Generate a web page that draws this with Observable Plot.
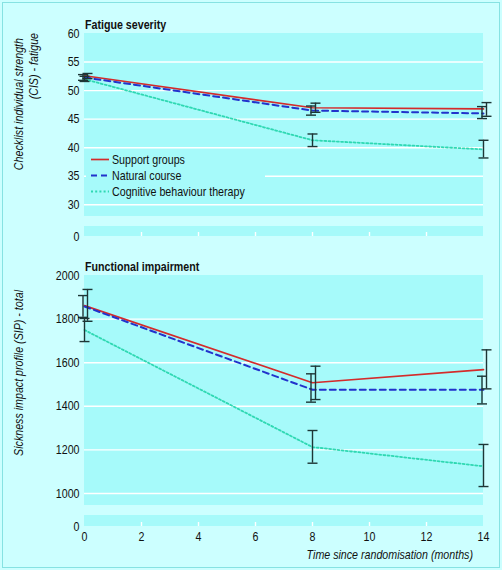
<!DOCTYPE html>
<html><head><meta charset="utf-8">
<script src="https://cdn.jsdelivr.net/npm/d3@7"></script>
<script src="https://cdn.jsdelivr.net/npm/@observablehq/plot@0.6"></script>
<style>
html,body{margin:0;padding:0;background:#ccffff;}
#wrap{position:relative;width:502px;height:570px;background:#ccffff;overflow:hidden;}
#frame{position:absolute;left:2px;top:2px;width:498px;height:566px;border:1px solid #86e2e2;box-sizing:border-box;}
.panel{position:absolute;left:0;}
</style></head><body>
<div id="wrap"><div id="frame"></div></div>
<script>
// ---------- data ----------
const months = [0, 8, 14];
const seriesNames = ["Support groups", "Natural course", "Cognitive behaviour therapy"];

// Checklist individual strength (CIS) - fatigue
const cisSupport = [52.6, 47.0, 46.8];
const cisSupportLo = [52.1, 46.2, 45.5];
const cisSupportHi = [53.0, 47.8, 47.9];
const cisNatural = [52.3, 46.5, 46.0];
const cisNaturalLo = [51.8, 45.7, 45.1];
const cisNaturalHi = [52.8, 47.3, 47.2];
const cisCBT = [52.0, 41.3, 39.7];
const cisCBTLo = [51.6, 40.2, 38.2];
const cisCBTHi = [52.5, 42.4, 41.3];

// Sickness impact profile (SIP) - total
const sipSupport = [1862, 1508, 1568];
const sipSupportLo = [1790, 1431, 1480];
const sipSupportHi = [1936, 1584, 1659];
const sipNatural = [1858, 1476, 1476];
const sipNaturalLo = [1808, 1419, 1411];
const sipNaturalHi = [1908, 1549, 1538];
const sipCBT = [1750, 1213, 1125];
const sipCBTLo = [1697, 1139, 1032];
const sipCBTHi = [1803, 1289, 1225];

const cisTicks = [0, 30, 35, 40, 45, 50, 55, 60];
const sipTicks = [0, 1000, 1200, 1400, 1600, 1800, 2000];
const monthTicks = [0, 2, 4, 6, 8, 10, 12, 14];

// ---------- styles ----------
const FONT = '"Liberation Sans", Arial, Helvetica, sans-serif';
const SQUEEZE = 0.82; // emulate a condensed face
const PLOT_BG = "#a6fafa";
const BAR = "#1d3636";
const styles = [
  {color: "#d42b2b", dash: null, width: 1.7, dx: 3},
  {color: "#2233cc", dash: "6,4", width: 2, dx: -1.5},
  {color: "#2fd8b2", dash: "2,2.2", width: 1.8, dx: 0}
];
const capSymbol = {draw(ctx, size) { const r = Math.sqrt(size / Math.PI); ctx.moveTo(-r, 0); ctx.lineTo(r, 0); }};

function rows(v, lo, hi) { return months.map((m, i) => ({month: m, value: v[i], lo: lo[i], hi: hi[i]})); }

const cisData = [rows(cisSupport, cisSupportLo, cisSupportHi), rows(cisNatural, cisNaturalLo, cisNaturalHi), rows(cisCBT, cisCBTLo, cisCBTHi)];
const sipData = [rows(sipSupport, sipSupportLo, sipSupportHi), rows(sipNatural, sipNaturalLo, sipNaturalHi), rows(sipCBT, sipCBTLo, sipCBTHi)];

function panel({height, top, bottom, breakLo, breakHi, yDomainMax, yRange, ticks, data, xAxis}) {
  const grid = ticks.filter(t => t > breakHi && t < yDomainMax);
  const inner = monthTicks.filter(t => t > 0 && t < 14);
  const marks = [
    Plot.rect([0], {x1: 0, x2: 14, y1: breakHi, y2: yDomainMax, fill: PLOT_BG}),
    Plot.rect([0], {x1: 0, x2: 14, y1: 0, y2: breakLo, fill: PLOT_BG}),
    Plot.ruleY(grid, {y: d => d, stroke: "white", strokeWidth: 1.4}),
    Plot.tickX(inner, {x: d => d, stroke: "white", strokeWidth: 1.4, insetTop: (height - top - bottom) - 4})
  ];
  data.forEach((d, i) => {
    const s = styles[i];
    marks.push(Plot.line(d, {x: "month", y: "value", stroke: s.color, strokeWidth: s.width, strokeDasharray: s.dash}));
  });
  data.forEach((d, i) => {
    const s = styles[i];
    marks.push(Plot.ruleX(d, {x: "month", y1: "lo", y2: "hi", stroke: BAR, strokeWidth: 1.4, dx: s.dx}));
    marks.push(Plot.dot(d, {x: "month", y: "lo", symbol: capSymbol, r: 5, fill: "none", stroke: BAR, strokeWidth: 1.4, dx: s.dx}));
    marks.push(Plot.dot(d, {x: "month", y: "hi", symbol: capSymbol, r: 5, fill: "none", stroke: BAR, strokeWidth: 1.4, dx: s.dx}));
  });
  marks.push(Plot.axisY({ticks, tickSize: 0, tickPadding: 5, fontSize: 13, fill: "#111", label: null, tickFormat: d => String(d)}));
  if (xAxis) marks.push(Plot.axisX({ticks: monthTicks, tickSize: 0, tickPadding: 5, fontSize: 13, fill: "#111", label: null}));
  return Plot.plot({
    width: 502, height,
    marginTop: top, marginBottom: bottom, marginLeft: 84, marginRight: 19,
    style: {background: "transparent", fontFamily: FONT, fontSize: "13px", color: "#111", overflow: "visible"},
    x: {domain: [0, 14], axis: xAxis ? undefined : null},
    y: {type: "linear", domain: [0, breakLo, breakHi, yDomainMax], range: yRange},
    marks
  });
}

function addText(sel, {x = 0, y = 0, transform, anchor = "start", weight, italic, text}) {
  const t = sel.append("text").attr("text-anchor", anchor).attr("font-size", 13).attr("fill", "#111").attr("font-family", FONT);
  if (transform) t.attr("transform", transform); else t.attr("x", x).attr("y", y);
  if (weight) t.attr("font-weight", weight);
  if (italic) t.attr("font-style", "italic");
  t.text(text);
  return t;
}

function squeeze(svg) {
  svg.querySelectorAll("text").forEach(t => {
    const L = t.getComputedTextLength();
    if (L > 0) { t.setAttribute("textLength", (L * SQUEEZE).toFixed(2)); t.setAttribute("lengthAdjust", "spacingAndGlyphs"); }
  });
}

const wrap = document.getElementById("wrap");

// ---------- top panel ----------
const topSvg = panel({height: 250, top: 33, bottom: 14, breakLo: 2, breakHi: 27.95, yDomainMax: 60,
  yRange: [236, 226, 216, 33], ticks: cisTicks, data: cisData, xAxis: false});
topSvg.classList.add("panel"); topSvg.style.top = "0px";
wrap.appendChild(topSvg);
const ts = d3.select(topSvg);
addText(ts, {x: 85, y: 28.5, weight: "bold", text: "Fatigue severity"});
addText(ts, {transform: "translate(23,38) rotate(-90)", anchor: "end", italic: true, text: "Checklist individual strength"});
addText(ts, {transform: "translate(37.5,33) rotate(-90)", anchor: "end", italic: true, text: "(CIS) - fatigue"});
// legend
const lg = ts.append("g");
lg.append("rect").attr("x", 86).attr("y", 151).attr("width", 179).attr("height", 48).attr("fill", PLOT_BG);
seriesNames.forEach((name, i) => {
  const y = 159.5 + i * 16;
  const s = styles[i];
  lg.append("line").attr("x1", 91).attr("x2", 109).attr("y1", y).attr("y2", y)
    .attr("stroke", s.color).attr("stroke-width", s.width).attr("stroke-dasharray", s.dash);
  addText(lg, {x: 112, y: y + 4.6, text: name});
});
squeeze(topSvg);

// ---------- bottom panel ----------
const botSvg = panel({height: 320, top: 25, bottom: 44, breakLo: 50, breakHi: 945, yDomainMax: 2000,
  yRange: [276, 265, 255, 25], ticks: sipTicks, data: sipData, xAxis: true});
botSvg.classList.add("panel"); botSvg.style.top = "250px";
wrap.appendChild(botSvg);
const bs = d3.select(botSvg);
addText(bs, {x: 85, y: 20.5, weight: "bold", text: "Functional impairment"});
addText(bs, {transform: "translate(22.5,40) rotate(-90)", anchor: "end", italic: true, text: "Sickness impact profile (SIP) - total"});
addText(bs, {x: 473, y: 308.5, anchor: "end", italic: true, text: "Time since randomisation (months)"});
squeeze(botSvg);
</script>
</body></html>
